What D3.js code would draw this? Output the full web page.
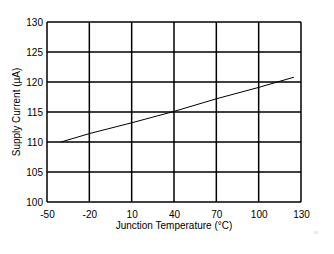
<!DOCTYPE html>
<html>
<head>
<meta charset="utf-8">
<script src="https://cdn.jsdelivr.net/npm/d3@7"></script>
<style>
  body { margin: 0; background: #fff; }
  text { font-family: "Liberation Sans", Arial, sans-serif; fill: #000; }
</style>
</head>
<body>
<div id="chart"></div>
<script>
// Supply current vs junction temperature
const temps = [-40, -20, 10, 40, 70, 100, 125];
const current = [110.0, 111.4, 113.2, 115.1, 117.2, 119.1, 120.8];
const xTicks = [-50, -20, 10, 40, 70, 100, 130];
const yTicks = [100, 105, 110, 115, 120, 125, 130];

const W = 334, H = 254;
const margin = { top: 22, right: 33, bottom: 52, left: 47 };
const width = W - margin.left - margin.right;
const height = H - margin.top - margin.bottom;

const svg = d3.select('#chart').append('svg')
    .attr('width', W)
    .attr('height', H);

const g = svg.append('g')
    .attr('transform', `translate(${margin.left},${margin.top})`);

const x = d3.scaleLinear().domain([-50, 130]).range([0, width]);
const y = d3.scaleLinear().domain([100, 130]).range([height, 0]);

// grid
g.append('g')
    .selectAll('line')
    .data(xTicks)
    .enter().append('line')
    .attr('x1', d => x(d)).attr('x2', d => x(d))
    .attr('y1', 0).attr('y2', height)
    .attr('stroke', '#000').attr('stroke-width', 1.5);

g.append('g')
    .selectAll('line')
    .data(yTicks)
    .enter().append('line')
    .attr('x1', 0).attr('x2', width)
    .attr('y1', d => y(d)).attr('y2', d => y(d))
    .attr('stroke', '#000').attr('stroke-width', 1.5);

// axes (labels only), plain hyphen for negatives
g.append('g')
    .attr('transform', `translate(0,${height})`)
    .call(d3.axisBottom(x).tickValues(xTicks).tickSize(0).tickPadding(9).tickFormat(d => String(d)))
    .call(a => a.select('.domain').remove())
    .selectAll('text')
    .style('font-size', '10px');

g.append('g')
    .call(d3.axisLeft(y).tickValues(yTicks).tickSize(0).tickPadding(4).tickFormat(d => String(d)))
    .call(a => a.select('.domain').remove())
    .selectAll('text')
    .style('font-size', '10px');

// data line
const line = d3.line()
    .x((d, i) => x(temps[i]))
    .y(d => y(d));

g.append('path')
    .datum(current)
    .attr('d', line)
    .attr('fill', 'none')
    .attr('stroke', '#000')
    .attr('stroke-width', 1);

// axis titles
svg.append('text')
    .attr('x', margin.left + width / 2)
    .attr('y', 229)
    .attr('text-anchor', 'middle')
    .style('font-size', '10px')
    .text('Junction Temperature (°C)');

svg.append('text')
    .attr('transform', `translate(20,${margin.top + height / 2}) rotate(-90)`)
    .attr('text-anchor', 'middle')
    .style('font-size', '10px')
    .text('Supply Current (µA)');

// small figure id mark
svg.append('text')
    .attr('x', 316)
    .attr('y', 234)
    .attr('text-anchor', 'middle')
    .style('font-size', '4px')
    .style('fill', '#bbb')
    .text('IO');
</script>
</body>
</html>
